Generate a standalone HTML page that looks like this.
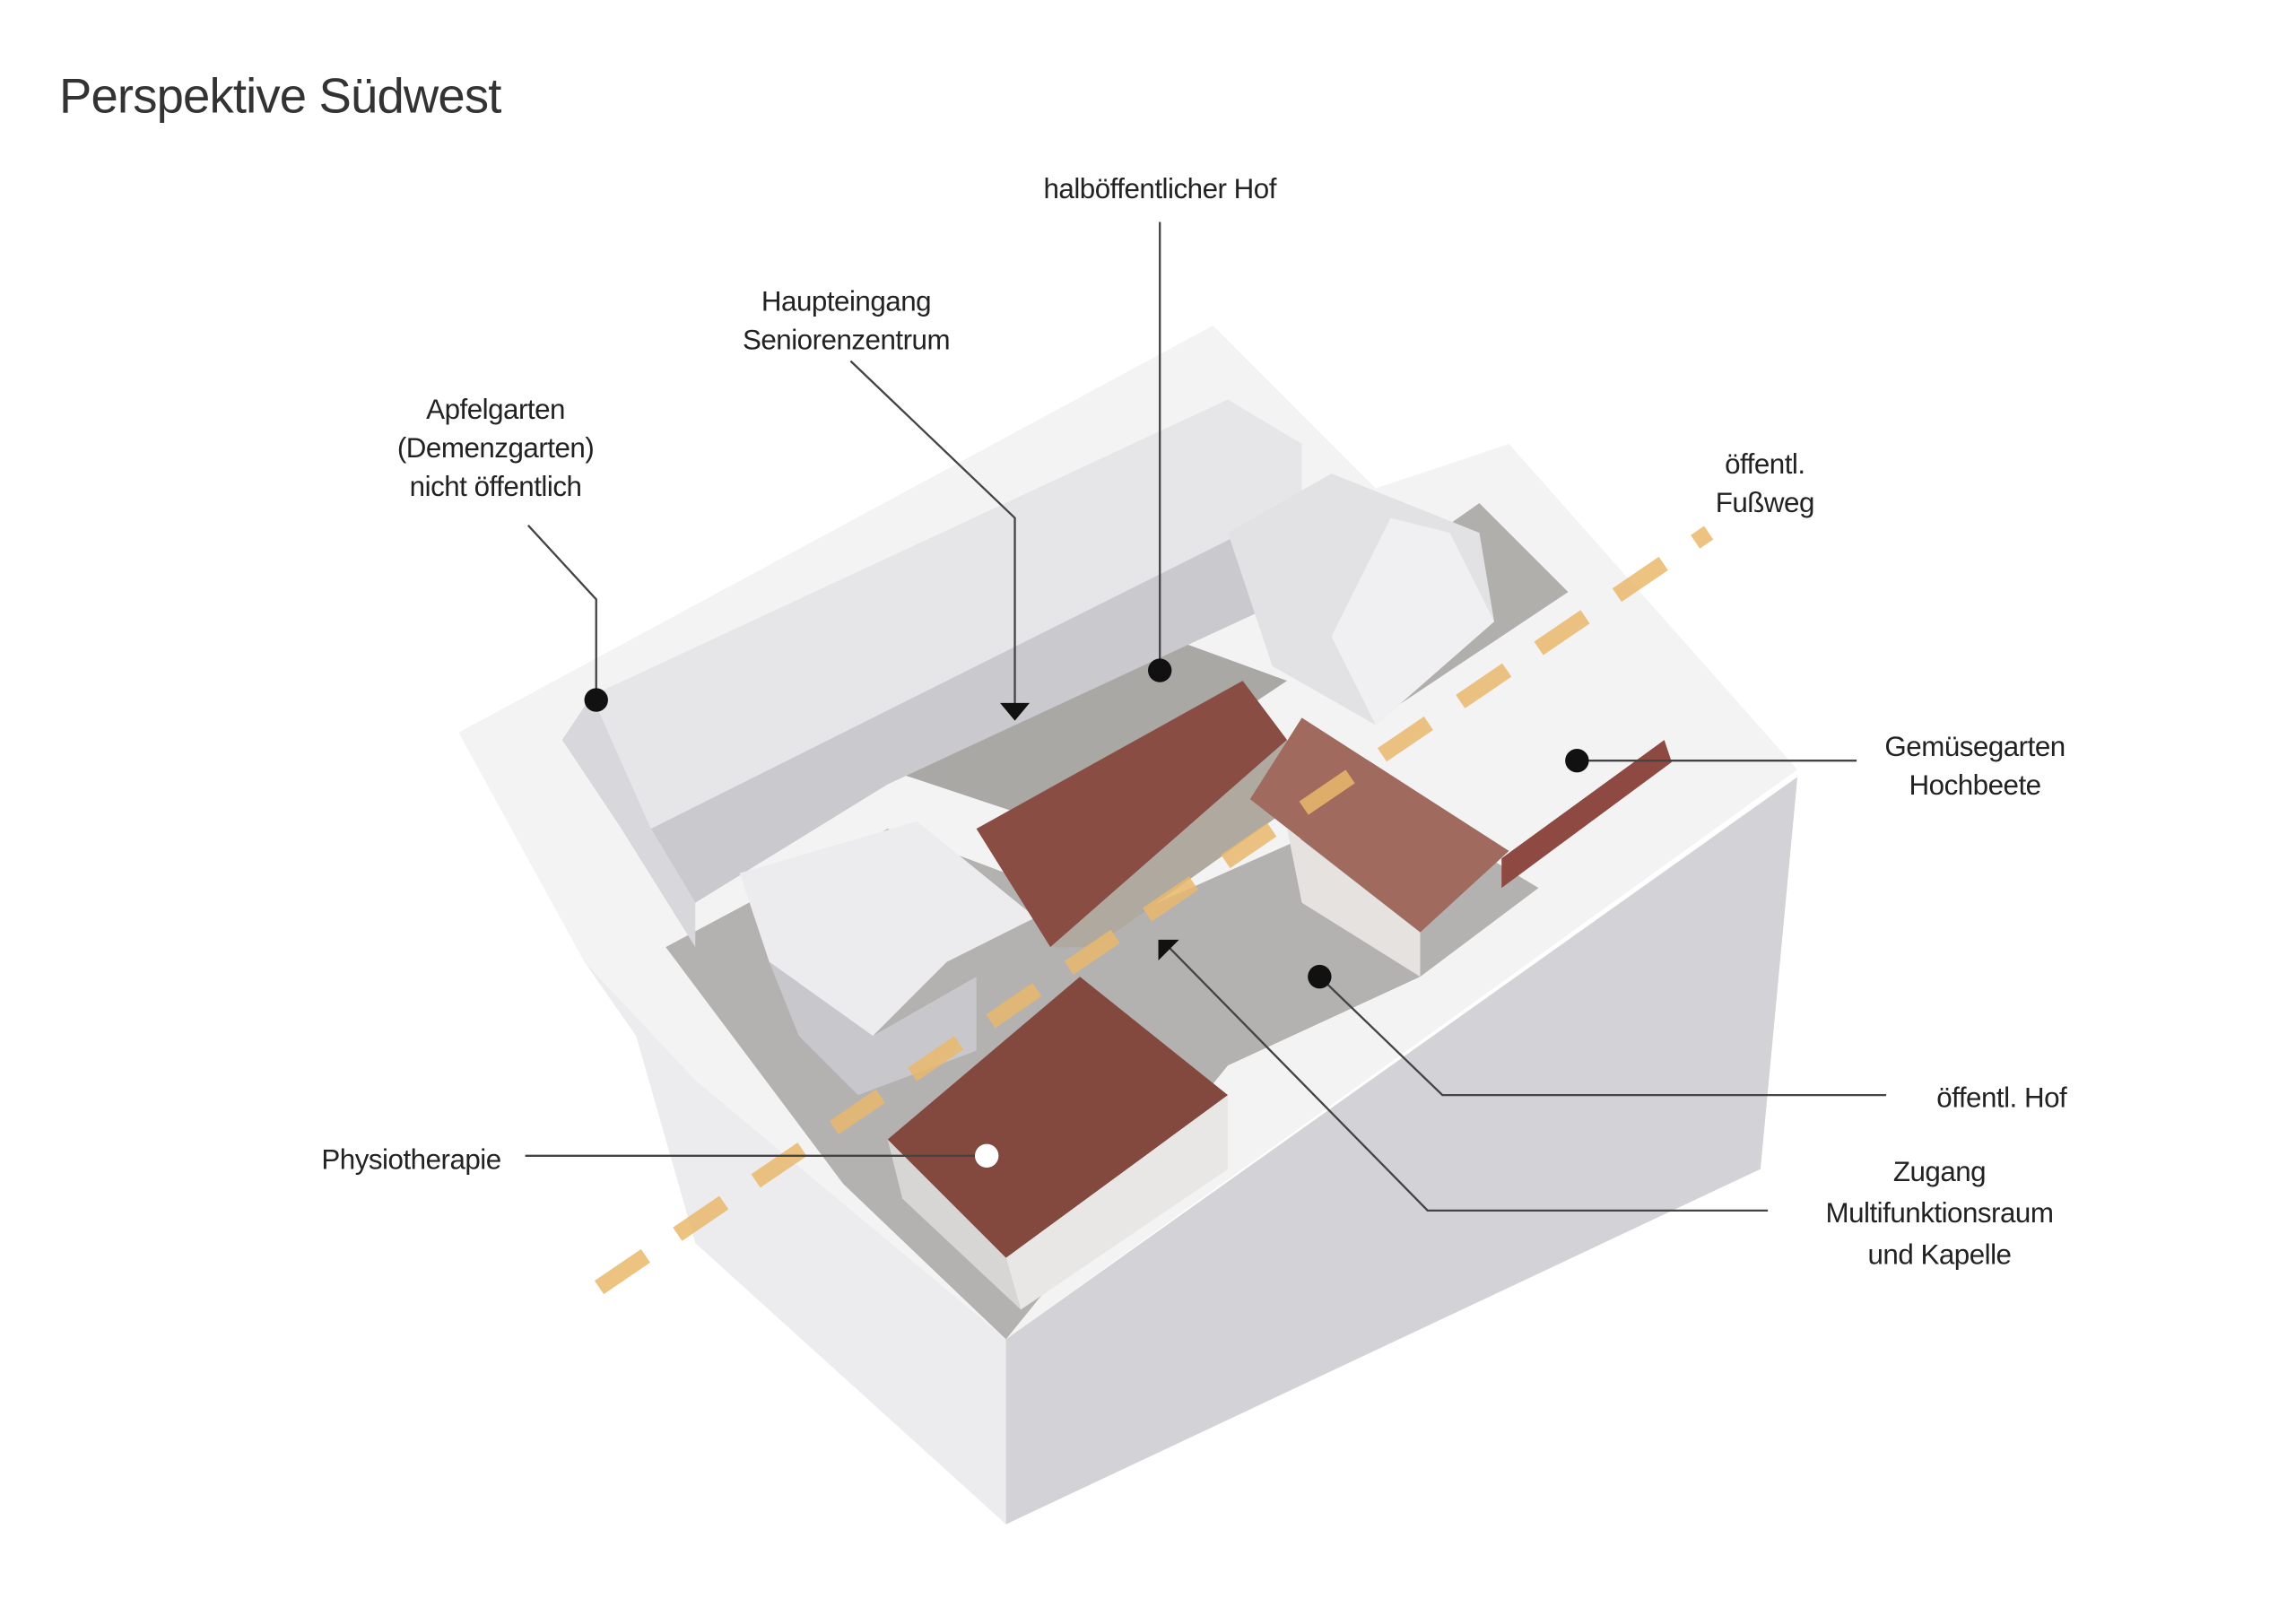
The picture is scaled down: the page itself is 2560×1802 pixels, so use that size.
<!DOCTYPE html>
<html><head><meta charset="utf-8"><style>
html,body{margin:0;padding:0;background:#fff}
svg{display:block}
text{font-family:"Liberation Sans",sans-serif;fill:#222}
</style></head><body>
<svg width="2560" height="1802" viewBox="0 0 1552 1092" preserveAspectRatio="none" xmlns="http://www.w3.org/2000/svg">
<rect width="1552" height="1092" fill="#fff"/>
<text x="40" y="76" font-size="33" style="fill:#333" letter-spacing="-0.5">Perspektive Südwest</text>
<!-- block sides -->
<polygon points="395,650 680,905 680,1030 470,840 430,700" fill="#ececee"/>
<polygon points="680,905 1215,525 1190,790 680,1030" fill="#d2d2d7"/>
<!-- top plate -->
<polygon points="310,495 820,220 930,330 1020,300 1215,520 680,905 470,730 395,650" fill="#f3f3f4"/>
<!-- ground courtyards -->
<polygon points="450,640 600,560 760,620 940,540 1040,600 960,660 830,720 680,905 570,800" fill="#b3b2b0"/>
<polygon points="600,520 760,420 870,460 720,560" fill="#a9a8a4"/>
<polygon points="900,410 1000,340 1060,400 940,480" fill="#b0afac"/>
<!-- long building -->
<polygon points="400,470 830,270 880,300 880,340 440,560 410,540" fill="#e6e6e8"/>
<polygon points="440,560 880,340 880,400 600,530 470,610" fill="#c9c9ce"/>
<polygon points="400,470 440,560 470,610 470,640 420,560 380,500" fill="#d8d8dc"/>
<!-- right building -->
<polygon points="830,360 900,320 1000,360 1010,420 930,490 860,450" fill="#e2e2e4"/>
<polygon points="940,350 980,360 1010,420 930,490 900,430" fill="#f0f0f2"/>
<!-- left small building -->
<polygon points="500,590 620,555 700,620 640,650 590,700 520,650" fill="#ececee"/>
<polygon points="520,650 590,700 660,660 660,710 580,740 540,700" fill="#c8c8cc"/>
<!-- main barn roof -->
<polygon points="660,560 840,460 870,500 710,640" fill="#8a4d44"/>
<polygon points="710,640 870,500 880,540 740,640" fill="#b0a9a0"/>
<!-- right chapel roof -->
<polygon points="845,540 880,485 1020,575 960,630" fill="#a06a5e"/>
<polygon points="870,560 960,630 960,660 880,610" fill="#e5e2df"/>
<!-- physio building -->
<polygon points="600,770 730,660 830,740 680,850" fill="#83493f"/>
<polygon points="680,850 830,740 830,790 690,885" fill="#e9e7e6"/>
<polygon points="600,770 680,850 690,885 610,810" fill="#d8d6d4"/>
<!-- red walls -->
<polygon points="1015,580 1125,500 1130,515 1015,600" fill="#8e4a42"/>
<!-- orange dashed path -->
<line x1="405" y1="870" x2="1155" y2="360" stroke="#e9b96c" stroke-width="11" stroke-dasharray="38,26" opacity="0.85"/>
<!-- leaders -->
<g stroke="#444" stroke-width="1.4" fill="none">
<polyline points="357,355 403,405 403,473"/>
<polyline points="575,244 686,350 686,478"/>
<line x1="784" y1="150" x2="784" y2="453"/>
<polyline points="1255,514 1140,514 1066,514"/>
<polyline points="1275,740 975,740 892,660"/>
<polyline points="1195,818 965,818 790,640"/>
<line x1="355" y1="781" x2="667" y2="781"/>
</g>
<g fill="#111">
<circle cx="403" cy="473" r="8"/><circle cx="784" cy="453" r="8"/>
<circle cx="1066" cy="514" r="8"/><circle cx="892" cy="660" r="8"/>
<polygon points="676,475 696,475 686,487"/><polygon points="783,635 797,635 783,649"/>
</g>
<circle cx="667" cy="781" r="8" fill="#fff"/>
<g font-size="19" text-anchor="middle" letter-spacing="-0.3">
<text x="784" y="134">halböffentlicher Hof</text>
<text x="572" y="210">Haupteingang</text><text x="572" y="236">Seniorenzentrum</text>
<text x="335" y="283">Apfelgarten</text><text x="335" y="309">(Demenzgarten)</text><text x="335" y="335">nicht öffentlich</text>
<text x="1193" y="320">öffentl.</text><text x="1193" y="346">Fußweg</text>
<text x="1335" y="511">Gemüsegarten</text><text x="1335" y="537">Hochbeete</text>
<text x="1353" y="748">öffentl. Hof</text>
<text x="1311" y="798">Zugang</text><text x="1311" y="826">Multifunktionsraum</text><text x="1311" y="854">und Kapelle</text>
<text x="278" y="790">Physiotherapie</text>
</g>
</svg>
</body></html>
